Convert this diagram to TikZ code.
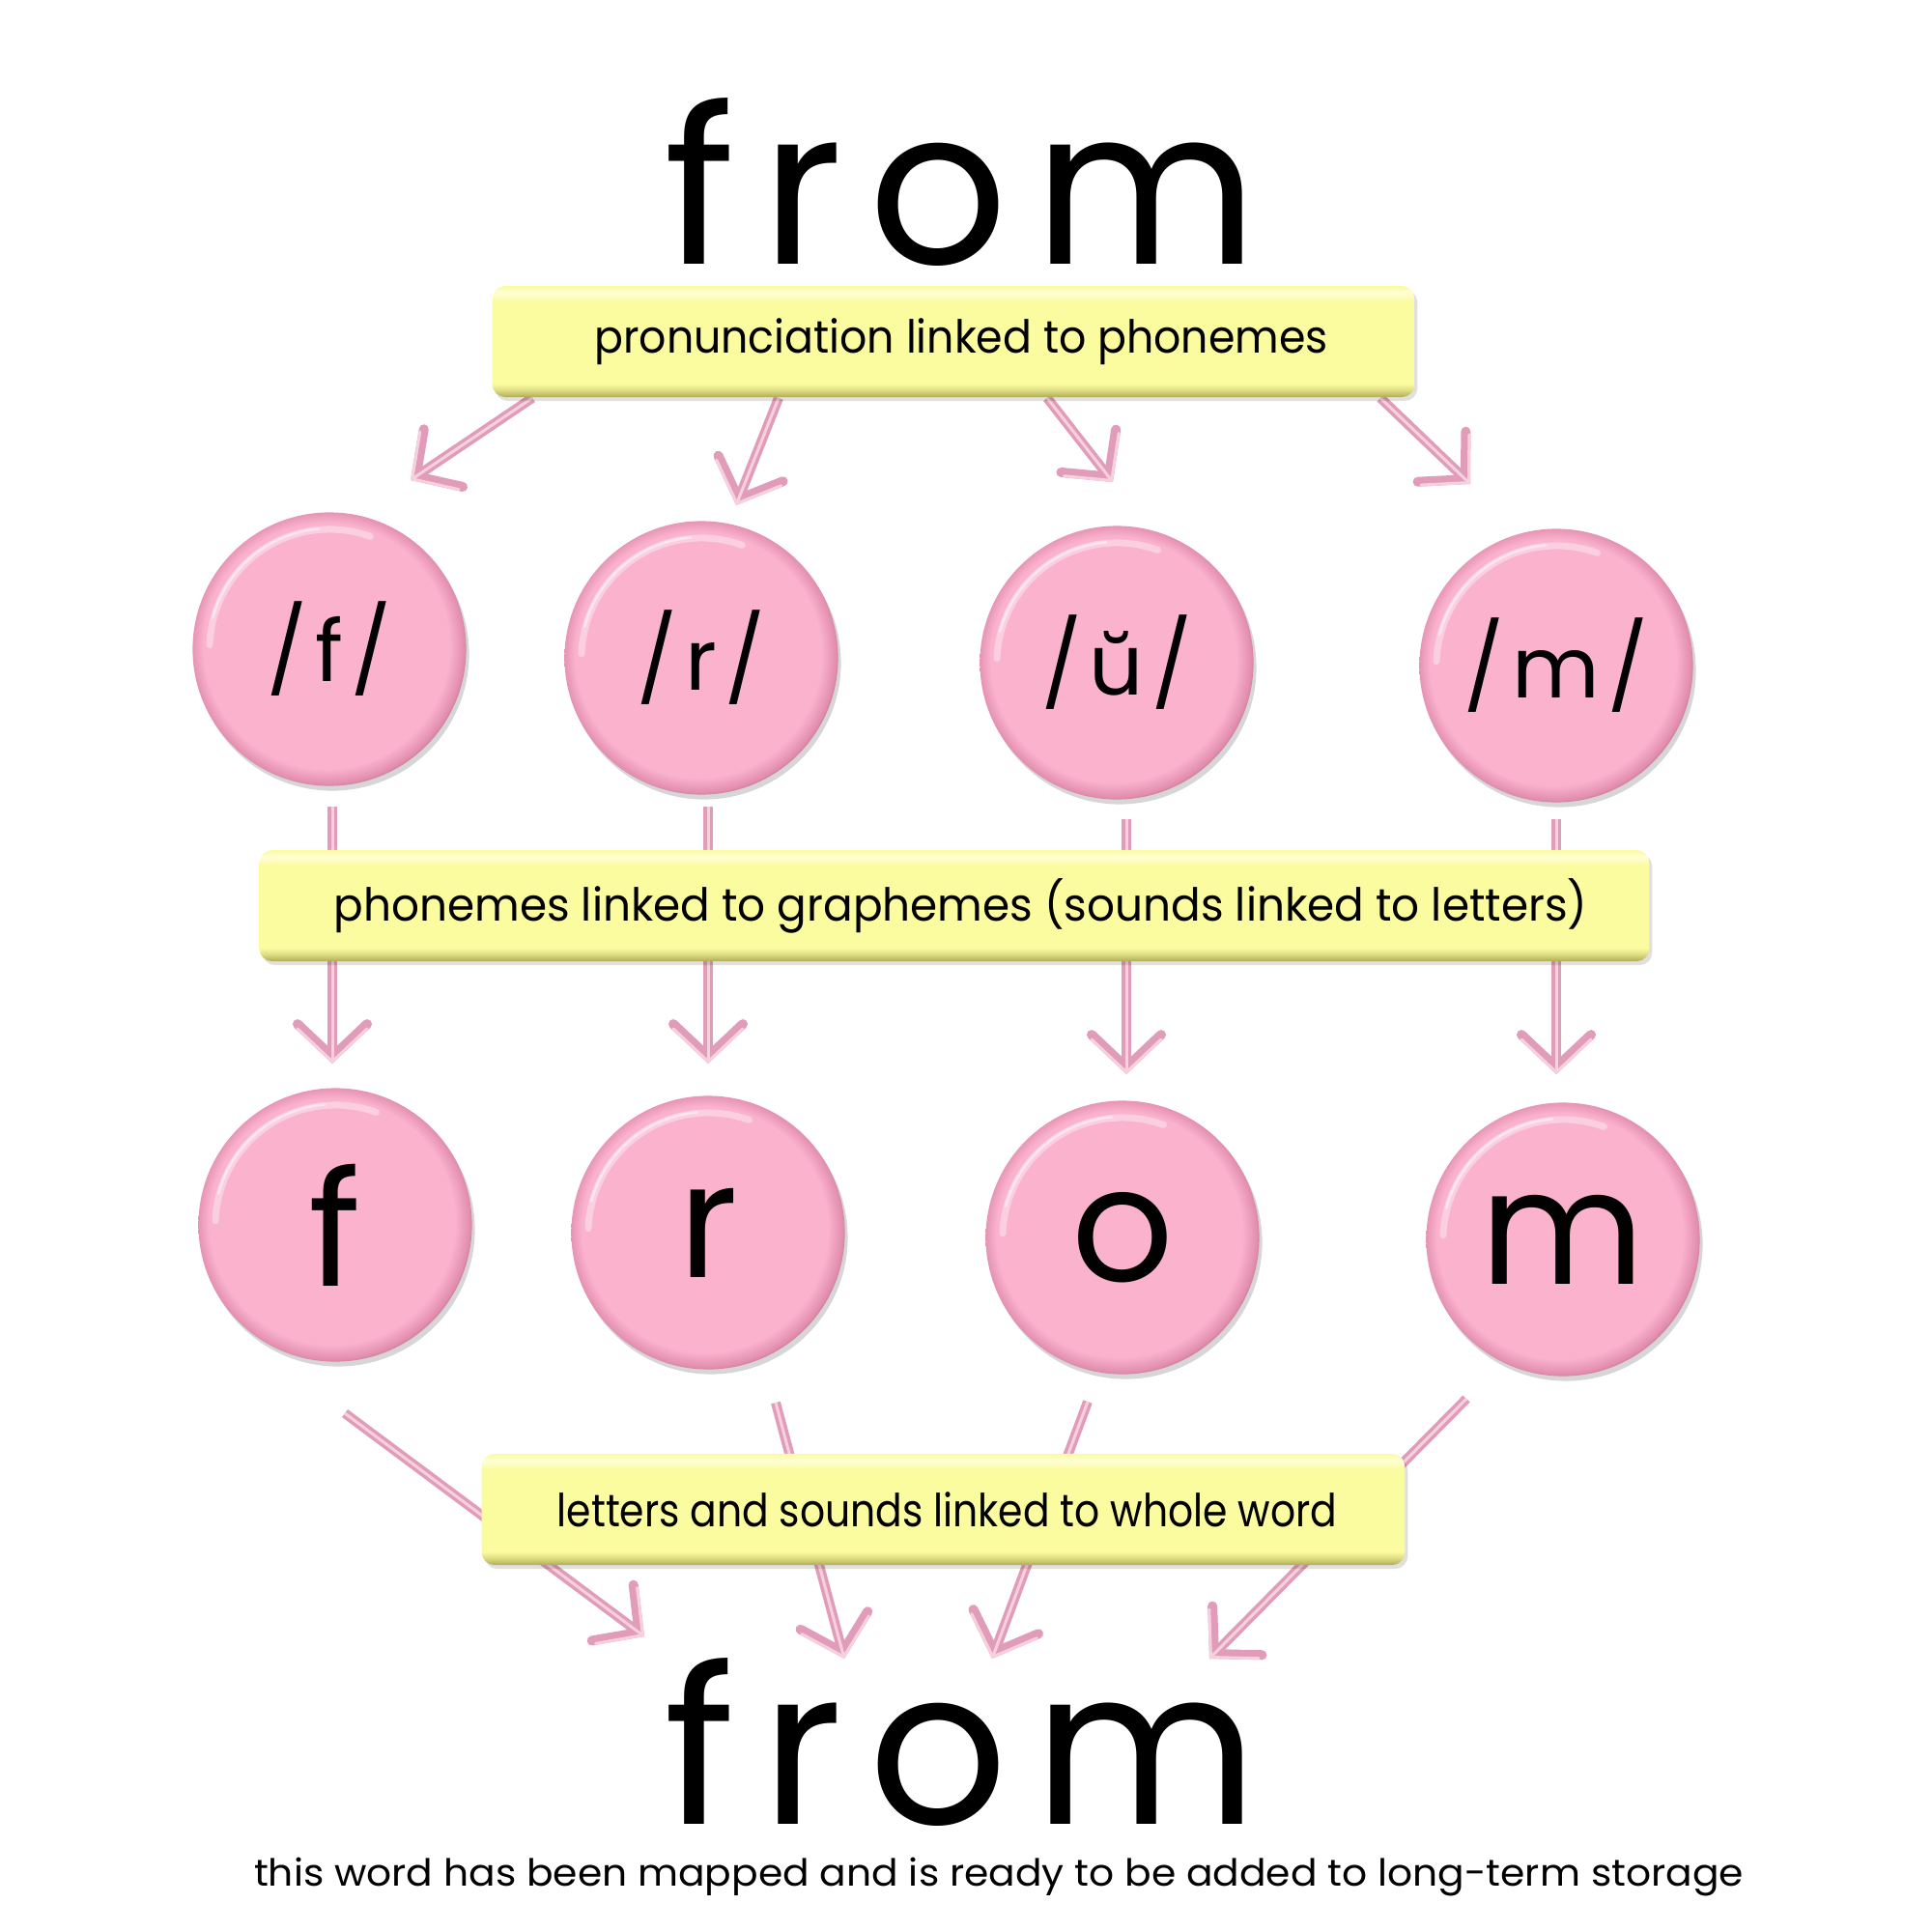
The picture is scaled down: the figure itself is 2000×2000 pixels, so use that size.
\documentclass[tikz,border=0pt]{standalone}
\usepackage{fontspec}
\usepackage{graphicx}
\setmainfont{Poppins}
\usetikzlibrary{arrows.meta}
\definecolor{pinkfill}{RGB}{250,178,205}
\definecolor{pinkmid}{RGB}{226,142,174}
\definecolor{pinkdark}{RGB}{140,75,100}
\definecolor{arrowpink}{RGB}{224,156,184}
\definecolor{arrowlight}{RGB}{247,208,222}
\definecolor{ymain}{RGB}{251,251,160}
\definecolor{ylight}{RGB}{254,254,215}
\definecolor{ymid}{RGB}{222,220,128}
\definecolor{ydark}{RGB}{175,172,88}
\pgfdeclareradialshading{beadshade}{\pgfpoint{-2bp}{2bp}}{color(0bp)=(pinkfill); color(22.5bp)=(pinkfill); color(25bp)=(pinkmid); color(27.3bp)=(pinkdark); color(32bp)=(pinkdark)}
\pgfdeclareverticalshading{boxshade}{100bp}{color(0bp)=(ydark); color(25bp)=(ydark); color(28bp)=(ymid); color(31bp)=(ymain); color(68bp)=(ymain); color(72bp)=(ylight); color(75bp)=(ymain); color(100bp)=(ymain)}
\newcommand\bigwordfont{\fontsize{64pt}{66pt}\selectfont\addfontfeatures{LetterSpace=12}}
\newcommand\beadbigfont{\fontsize{47pt}{50pt}\selectfont}
\newcommand\beadsmallfont{\fontsize{25pt}{27pt}\selectfont\addfontfeatures{LetterSpace=9}}
\newcommand\boxtextfont{\fontsize{13.4pt}{15pt}\selectfont}
\newcommand\captionfont{\fontsize{11pt}{13pt}\selectfont}
\newcommand\fitto[2]{\resizebox{#1}{\height}{#2}}
\tikzset{
  bead/.style={circle, minimum size=2.83cm, inner sep=0pt, shading=beadshade,
    preaction={fill=black, opacity=0.16, transform canvas={xshift=0.03cm, yshift=-0.05cm}},
    path picture={\draw[white, opacity=0.38, line width=0.07cm, line cap=round]
      (path picture bounding box.center) ++(70:1.24cm) arc[start angle=70, end angle=178, radius=1.24cm];
      \draw[white, opacity=0.5, line width=0.025cm, line cap=round]
      (path picture bounding box.center) ++(95:1.25cm) arc[start angle=95, end angle=165, radius=1.25cm];}},
  linkbox/.style={rounded corners=0.13cm, minimum height=1.15cm, inner sep=0pt, shading=boxshade,
    preaction={fill=black, opacity=0.12, rounded corners=0.13cm, transform canvas={xshift=0.03cm, yshift=-0.04cm}},
    font=\boxtextfont},
  pinkarrow/.style={draw=arrowpink, line width=0.1cm,
    -{Straight Barb[length=0.34cm, width=0.72cm, line cap=round]},
    postaction={draw=arrowlight, line width=0.03cm, -{Straight Barb[length=0.34cm, width=0.72cm, line cap=round]}}},
  bigword/.style={inner sep=0pt, anchor=base, font=\bigwordfont},
}
\begin{document}
\begin{tikzpicture}[x=0.01cm, y=-0.01cm]
\useasboundingbox (0,0) rectangle (2000,2000);
\fill[white] (0,0) rectangle (2000,2000);

% arrow endpoints
\coordinate (a1s) at (551,412); \coordinate (a1e) at (425,497);
\coordinate (a2s) at (806,412); \coordinate (a2e) at (762,523);
\coordinate (a3s) at (1084,412); \coordinate (a3e) at (1152,499);
\coordinate (a4s) at (1429,412); \coordinate (a4e) at (1522,501);
\coordinate (b1s) at (344,835); \coordinate (b1e) at (344,1101);
\coordinate (b2s) at (733,835); \coordinate (b2e) at (733,1101);
\coordinate (b3s) at (1166,848); \coordinate (b3e) at (1166,1112);
\coordinate (b4s) at (1611,848); \coordinate (b4e) at (1611,1112);
\coordinate (c1s) at (357,1463); \coordinate (c1e) at (667,1694);
\coordinate (c2s) at (803,1452); \coordinate (c2e) at (874,1717);
\coordinate (c3s) at (1126,1451); \coordinate (c3e) at (1027,1717);
\coordinate (c4s) at (1518,1448); \coordinate (c4e) at (1252,1717);

% connectors (drawn beneath the boxes)
\foreach \n in {a1,a2,a3,a4,b1,b2,b3,b4,c1,c2,c3,c4}
  \draw[pinkarrow] (\n s) -- (\n e);

% top word
\node[bigword] (wordtop) at (995,273) {from};

% boxes
\node[linkbox, minimum width=9.54cm] (box1) at (987,353.5) {\hspace*{0.16cm}\fitto{7.59cm}{pronunciation linked to phonemes}};
\node[linkbox, minimum width=14.38cm] (box2) at (988,937.5) {\hspace*{0.13cm}\fitto{12.97cm}{phonemes linked to graphemes (sounds linked to letters)}};
\node[linkbox, minimum width=9.55cm] (box3) at (976.5,1562.5) {\hspace*{0.08cm}\fitto{8.07cm}{letters and sounds linked to whole word}};

% phoneme beads
\node[bead, font=\beadsmallfont] (ph1) at (341,672) {/f/};
\node[bead, font=\beadsmallfont] (ph2) at (726,681) {/r/};
\node[bead, font=\beadsmallfont] (ph3) at (1156,686) {/ŭ/};
\node[bead, font=\beadsmallfont] (ph4) at (1611,689) {/m/};

% grapheme beads
\node[bead, font=\beadbigfont] (gr1) at (347,1268) {f};
\node[bead, font=\beadbigfont] (gr2) at (733,1276) {r};
\node[bead, font=\beadbigfont] (gr3) at (1162,1281) {o};
\node[bead, font=\beadbigfont] (gr4) at (1618,1283) {m};

% bottom word and caption
\node[bigword] (wordbot) at (995,1888) {from};
\node[anchor=base, inner sep=0pt, font=\captionfont] (caption) at (1034,1952) {\fitto{15.41cm}{this word has been mapped and is ready to be added to long-term storage}};
\end{tikzpicture}
\end{document}
